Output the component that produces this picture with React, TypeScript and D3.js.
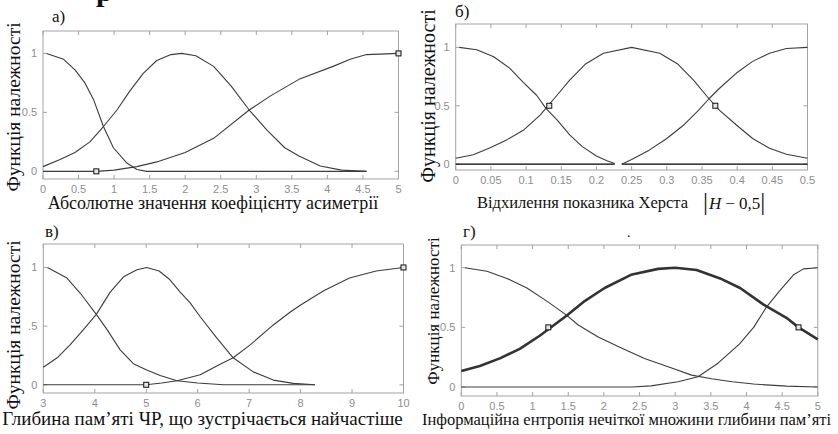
import React from "react";
import * as d3 from "d3";

// ---------- Panel а) ----------
const aXTicks = [0, 0.5, 1, 1.5, 2, 2.5, 3, 3.5, 4, 4.5, 5];
const aXTickLabels = ["0", "0.5", "1", "1.5", "2", "2.5", "3", "3.5", "4", "4.5", "5"];
const aYTicks = [0, 0.5, 1];
const aYTickLabels = ["0", "0.5", "1"];
const aMf1X = [0.05, 0.29, 0.45, 0.59, 0.71, 0.85, 0.99, 1.18, 1.32, 1.46, 4.55];
const aMf1Y = [1, 0.95, 0.86, 0.75, 0.61, 0.38, 0.2, 0.07, 0.015, 0, 0];
const aMf2X = [0, 0.24, 0.45, 0.66, 0.85, 1.04, 1.22, 1.41, 1.6, 1.8, 1.95, 2.15, 2.4, 2.65, 2.9, 3.15, 3.4, 3.6, 3.9, 4.2, 4.55];
const aMf2Y = [0.04, 0.1, 0.16, 0.25, 0.38, 0.52, 0.68, 0.83, 0.94, 0.99, 1, 0.98, 0.89, 0.72, 0.52, 0.35, 0.2, 0.13, 0.045, 0.01, 0];
const aMf3X = [0, 0.75, 1.0, 1.32, 1.6, 2.0, 2.4, 2.9, 3.2, 3.6, 4.08, 4.32, 4.55, 5];
const aMf3Y = [0, 0, 0.01, 0.04, 0.08, 0.16, 0.28, 0.52, 0.64, 0.78, 0.89, 0.95, 0.99, 1];
const aMarkX = [0.75, 5];
const aMarkY = [0, 1];

// ---------- Panel б) ----------
const bXTicks = [0, 0.05, 0.1, 0.15, 0.2, 0.25, 0.3, 0.35, 0.4, 0.45, 0.5];
const bXTickLabels = ["0", "0.05", "0.1", "0.15", "0.2", "0.25", "0.3", "0.35", "0.4", "0.45", "0.5"];
const bYTicks = [0, 0.5, 1];
const bYTickLabels = ["0", "0.5", "1"];
const bMf1X = [0.005, 0.03, 0.054, 0.077, 0.096, 0.115, 0.128, 0.144, 0.162, 0.18, 0.2, 0.215, 0.226];
const bMf1Y = [1, 0.98, 0.92, 0.82, 0.7, 0.59, 0.48, 0.38, 0.25, 0.15, 0.07, 0.03, 0.005];
const bMf2X = [0, 0.025, 0.049, 0.073, 0.096, 0.12, 0.144, 0.162, 0.185, 0.21, 0.25, 0.29, 0.315, 0.338, 0.36, 0.375, 0.399, 0.422, 0.446, 0.47, 0.5];
const bMf2Y = [0.05, 0.08, 0.14, 0.21, 0.29, 0.42, 0.59, 0.72, 0.86, 0.95, 1, 0.95, 0.86, 0.72, 0.56, 0.46, 0.335, 0.22, 0.136, 0.085, 0.05];
const bMf3X = [0.236, 0.25, 0.275, 0.3, 0.325, 0.345, 0.36, 0.375, 0.399, 0.422, 0.446, 0.47, 0.5];
const bMf3Y = [0, 0.04, 0.12, 0.22, 0.34, 0.46, 0.56, 0.65, 0.78, 0.88, 0.95, 0.99, 1];
const bBase1X = [0, 0.226];
const bBase2X = [0.236, 0.5];
const bBaseY = [0, 0];
const bMarkX = [0.133, 0.369];
const bMarkY = [0.5, 0.5];

// ---------- Panel в) ----------
const cXTicks = [3, 4, 5, 6, 7, 8, 9, 10];
const cXTickLabels = ["3", "4", "5", "6", "7", "8", "9", "10"];
const cYTicks = [0, 0.5, 1];
const cYTickLabels = ["0", ".5", "1"];
const cMf1X = [3.08, 3.46, 3.72, 4.03, 4.24, 4.49, 4.75, 5.01, 5.27, 5.6, 6.0, 6.5, 8.28];
const cMf1Y = [1, 0.91, 0.78, 0.6, 0.47, 0.3, 0.18, 0.126, 0.08, 0.035, 0.015, 0, 0];
const cMf2X = [3.0, 3.27, 3.52, 3.78, 4.03, 4.3, 4.56, 4.82, 5.01, 5.25, 5.45, 5.66, 5.85, 6.05, 6.37, 6.69, 7.08, 7.47, 7.86, 8.28];
const cMf2Y = [0.15, 0.23, 0.34, 0.47, 0.6, 0.79, 0.92, 0.98, 1, 0.97, 0.9, 0.79, 0.7, 0.58, 0.4, 0.23, 0.11, 0.04, 0.012, 0];
const cMf3X = [3, 5.0, 5.3, 5.6, 6.05, 6.37, 6.69, 7.02, 7.47, 7.8, 8.0, 8.44, 8.95, 9.47, 10];
const cMf3Y = [0, 0, 0.015, 0.035, 0.085, 0.16, 0.23, 0.34, 0.51, 0.62, 0.68, 0.8, 0.91, 0.97, 1];
const cMarkX = [5, 10];
const cMarkY = [0, 1];

// ---------- Panel г) ----------
const dXTicks = [0, 0.5, 1, 1.5, 2, 2.5, 3, 3.5, 4, 4.5, 5];
const dXTickLabels = ["0", "0.5", "1", "1.5", "2", "2.5", "3", "3.5", "4", "4.5", "5"];
const dYTicks = [0, 0.5, 1];
const dYTickLabels = ["0", "0.5", "1"];
const dMf1X = [0.05, 0.36, 0.64, 0.92, 1.2, 1.48, 1.64, 1.92, 2.2, 2.57, 2.95, 3.23, 3.51, 3.8, 4.1, 4.56, 5];
const dMf1Y = [1, 0.97, 0.91, 0.83, 0.72, 0.6, 0.52, 0.42, 0.34, 0.24, 0.16, 0.1, 0.07, 0.045, 0.025, 0.008, 0];
const dMf2X = [0, 0.26, 0.54, 0.82, 1.1, 1.48, 1.73, 2.01, 2.38, 2.76, 3.0, 3.3, 3.63, 3.91, 4.24, 4.56, 4.73, 5];
const dMf2Y = [0.134, 0.176, 0.24, 0.32, 0.43, 0.6, 0.72, 0.83, 0.94, 0.99, 1, 0.98, 0.91, 0.83, 0.69, 0.58, 0.5, 0.4];
const dMf3X = [0, 2.4, 2.66, 3.04, 3.32, 3.6, 3.9, 4.1, 4.28, 4.47, 4.66, 4.8, 5];
const dMf3Y = [0, 0, 0.01, 0.045, 0.086, 0.2, 0.36, 0.5, 0.67, 0.81, 0.94, 0.99, 1];
const dMarkX = [1.22, 4.73];
const dMarkY = [0.5, 0.5];

const SERIF = "'Liberation Serif', 'Times New Roman', 'DejaVu Serif', serif";
const SANS = "'Liberation Sans', Arial, sans-serif";
const FRAME = "#a3a3a3";
const TICKTXT = "#8e8e8e";
const CURVE = "#3c3c3c";

type Curve = { xs: number[]; ys: number[]; width?: number; color?: string };

function zip(xs: number[], ys: number[]): [number, number][] {
  return xs.map((x, i) => [x, ys[i]] as [number, number]);
}

function Panel(props: {
  left: number; right: number; top: number; bottom: number;
  xDomain: [number, number]; yDomain: [number, number];
  xTicks: number[]; xTickLabels: string[];
  yTicks: number[]; yTickLabels: string[];
  curves: Curve[]; markX: number[]; markY: number[];
}) {
  const { left, right, top, bottom } = props;
  const xs = d3.scaleLinear().domain(props.xDomain).range([left, right]);
  const ys = d3.scaleLinear().domain(props.yDomain).range([bottom, top]);
  const line = d3.line<[number, number]>().x((d) => xs(d[0])).y((d) => ys(d[1]));
  const tl = 4;
  return (
    <g>
      <rect x={left} y={top} width={right - left} height={bottom - top} fill="white" stroke={FRAME} strokeWidth={1} />
      {props.xTicks.map((t, i) => (
        <g key={"xt" + i}>
          <line x1={xs(t)} x2={xs(t)} y1={bottom} y2={bottom - tl} stroke={FRAME} />
          <line x1={xs(t)} x2={xs(t)} y1={top} y2={top + tl} stroke={FRAME} />
          <text x={xs(t)} y={bottom + 9.5} textAnchor="middle" dominantBaseline="central" fontFamily={SANS} fontSize={11} fill={TICKTXT}>
            {props.xTickLabels[i]}
          </text>
        </g>
      ))}
      {props.yTicks.map((t, i) => (
        <g key={"yt" + i}>
          <line x1={left} x2={left + tl} y1={ys(t)} y2={ys(t)} stroke={FRAME} />
          <line x1={right} x2={right - tl} y1={ys(t)} y2={ys(t)} stroke={FRAME} />
          <text x={left - 6} y={ys(t)} textAnchor="end" dominantBaseline="central" fontFamily={SANS} fontSize={11} fill={TICKTXT}>
            {props.yTickLabels[i]}
          </text>
        </g>
      ))}
      {props.curves.map((c, i) => (
        <path key={"c" + i} d={line(zip(c.xs, c.ys)) || ""} fill="none" stroke={c.color || CURVE} strokeWidth={c.width || 1.1} strokeLinejoin="round" />
      ))}
      {props.markX.map((mx, i) => (
        <rect key={"m" + i} x={xs(mx) - 2.5} y={ys(props.markY[i]) - 2.5} width={5} height={5} fill="#e4e4e4" stroke="#111" strokeWidth={1} />
      ))}
    </g>
  );
}

function YLabel({ cx, cy, size }: { cx: number; cy: number; size: number }) {
  return (
    <text transform={`translate(${cx},${cy}) rotate(-90)`} textAnchor="middle" dominantBaseline="central" fontFamily={SERIF} fontSize={size} fill="#111">
      Функція належності
    </text>
  );
}

export default function App() {
  return (
    <svg width={838} height={434} viewBox="0 0 838 434" style={{ position: "absolute", left: 0, top: 0, background: "white" }}>
      <rect x={0} y={0} width={838} height={434} fill="white" />
      <text x={96} y={1} fontFamily={SERIF} fontSize={30} fontWeight="bold" fill="#111">р</text>

      <Panel left={43} right={398.5} top={31} bottom={179} xDomain={[0, 5]} yDomain={[-0.065, 1.19]}
        xTicks={aXTicks} xTickLabels={aXTickLabels} yTicks={aYTicks} yTickLabels={aYTickLabels}
        curves={[{ xs: aMf1X, ys: aMf1Y }, { xs: aMf2X, ys: aMf2Y }, { xs: aMf3X, ys: aMf3Y }]}
        markX={aMarkX} markY={aMarkY} />
      <text x={52} y={22} fontFamily={SERIF} fontSize={17} fill="#111">а)</text>
      <YLabel cx={13} cy={107} size={19.5} />
      <text x={213} y={209} textAnchor="middle" fontFamily={SERIF} fontSize={18} fill="#111">Абсолютне значення коефіцієнту асиметрії</text>

      <Panel left={455.7} right={807.5} top={24} bottom={170} xDomain={[0, 0.5]} yDomain={[-0.05, 1.2]}
        xTicks={bXTicks} xTickLabels={bXTickLabels} yTicks={bYTicks} yTickLabels={bYTickLabels}
        curves={[{ xs: bBase1X, ys: bBaseY, color: "#000" }, { xs: bBase2X, ys: bBaseY, color: "#000" }, { xs: bMf1X, ys: bMf1Y }, { xs: bMf2X, ys: bMf2Y }, { xs: bMf3X, ys: bMf3Y }]}
        markX={bMarkX} markY={bMarkY} />
      <text x={455} y={17} fontFamily={SERIF} fontSize={17} fill="#111">б)</text>
      <YLabel cx={428} cy={96} size={20} />
      <text x={477} y={208} fontFamily={SERIF} fontSize={16.5} fill="#111">Відхилення показника Херста</text>
      <text x={703} y={209} fontFamily={SERIF} fontSize={17} fill="#111">
        <tspan fontSize={25} dy={1}>|</tspan>
        <tspan fontStyle="italic" dy={-1} dx={1}>H</tspan>
        <tspan dx={4}>−</tspan>
        <tspan dx={4}>0,5</tspan>
        <tspan fontSize={25} dy={1}>|</tspan>
      </text>

      <Panel left={43.3} right={403.5} top={244} bottom={393} xDomain={[3, 10]} yDomain={[-0.07, 1.2]}
        xTicks={cXTicks} xTickLabels={cXTickLabels} yTicks={cYTicks} yTickLabels={cYTickLabels}
        curves={[{ xs: cMf1X, ys: cMf1Y }, { xs: cMf2X, ys: cMf2Y }, { xs: cMf3X, ys: cMf3Y }]}
        markX={cMarkX} markY={cMarkY} />
      <text x={45} y={237} fontFamily={SERIF} fontSize={17} fill="#111">в)</text>
      <YLabel cx={13} cy={325} size={19.5} />
      <text x={202.5} y={425} textAnchor="middle" fontFamily={SERIF} fontSize={19} fill="#111">Глибина пам’яті ЧР, що зустрічається найчастіше</text>

      <Panel left={461.3} right={817.8} top={245} bottom={396} xDomain={[0, 5]} yDomain={[-0.075, 1.19]}
        xTicks={dXTicks} xTickLabels={dXTickLabels} yTicks={dYTicks} yTickLabels={dYTickLabels}
        curves={[{ xs: dMf1X, ys: dMf1Y }, { xs: dMf3X, ys: dMf3Y }, { xs: dMf2X, ys: dMf2Y, width: 2.6, color: "#333" }]}
        markX={dMarkX} markY={dMarkY} />
      <text x={463} y={237} fontFamily={SERIF} fontSize={17} fill="#111">г)</text>
      <text x={627} y={237} fontFamily={SERIF} fontSize={14} fill="#111">.</text>
      <YLabel cx={433} cy={311} size={17} />
      <text x={626.5} y={425} textAnchor="middle" fontFamily={SERIF} fontSize={16.5} fill="#111">Інформаційна ентропія нечіткої множини глибини пам’яті</text>
    </svg>
  );
}
